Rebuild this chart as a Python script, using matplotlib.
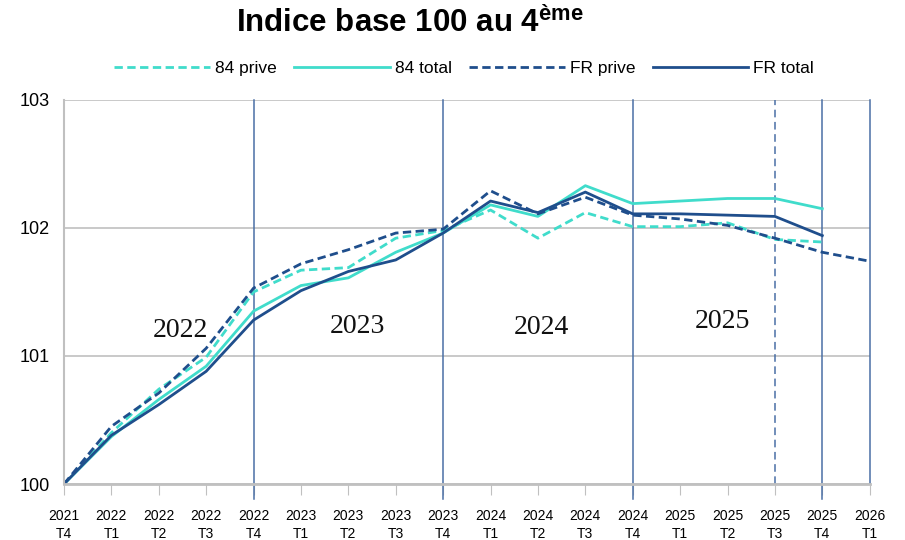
import matplotlib
matplotlib.use("Agg")
import matplotlib.pyplot as plt
from matplotlib import font_manager

# pick a narrow sans if there is one
names = set(f.name for f in font_manager.fontManager.ttflist)
SANS = "Liberation Sans Narrow" if "Liberation Sans Narrow" in names else "Liberation Sans"
plt.rcParams["font.family"] = [SANS, "DejaVu Sans"]

quarters = ["2021\nT4", "2022\nT1", "2022\nT2", "2022\nT3", "2022\nT4", "2023\nT1",
            "2023\nT2", "2023\nT3", "2023\nT4", "2024\nT1", "2024\nT2", "2024\nT3",
            "2024\nT4", "2025\nT1", "2025\nT2", "2025\nT3", "2025\nT4", "2026\nT1"]

prive_84 = [100, 100.40, 100.74, 100.99, 101.50, 101.67, 101.69, 101.92, 101.98,
            102.14, 101.92, 102.12, 102.01, 102.01, 102.04, 101.91, 101.89]
total_84 = [100, 100.37, 100.66, 100.92, 101.35, 101.55, 101.61, 101.81, 101.96,
            102.18, 102.09, 102.33, 102.19, 102.21, 102.23, 102.23, 102.15]
prive_fr = [100, 100.45, 100.71, 101.06, 101.53, 101.72, 101.83, 101.96, 101.99,
            102.29, 102.11, 102.24, 102.10, 102.07, 102.02, 101.92, 101.81, 101.74]
total_fr = [100, 100.38, 100.62, 100.88, 101.28, 101.51, 101.66, 101.75, 101.96,
            102.21, 102.12, 102.28, 102.11, 102.11, 102.10, 102.09, 101.94]

years = ["2022", "2023", "2024", "2025"]
year_x = [2.45, 6.2, 10.08, 13.9]
year_y = [101.20, 101.23, 101.22, 101.27]

year_ends = [4, 8, 12, 16]
dashed_sep = 15

TURQ = "#40DCCB"
DARK = "#1F4E8C"
SEP = "#4A6FA5"
GRID = "#C0C0C0"

fig = plt.figure(figsize=(9.05, 5.4), dpi=100)
ax = fig.add_axes([0.0707, 0.1037, 0.8903, 0.7113])

x_all = list(range(len(quarters)))
ax.plot(x_all[:len(prive_84)], prive_84, color=TURQ, lw=2, ls=(0, (3, 1.6)), label="84 prive")
ax.plot(x_all[:len(total_84)], total_84, color=TURQ, lw=2, label="84 total")
ax.plot(x_all[:len(prive_fr)], prive_fr, color=DARK, lw=2, ls=(0, (3, 1.6)), label="FR prive")
ax.plot(x_all[:len(total_fr)], total_fr, color=DARK, lw=2, label="FR total")

for xe in year_ends:
    ax.axvline(xe, color=SEP, lw=1.1, ymin=-0.04, clip_on=False, zorder=1)
ax.axvline(dashed_sep, color=SEP, lw=1.1, ls=(0, (5, 3)), zorder=1)

for t, xx, yy in zip(years, year_x, year_y):
    ax.text(xx, yy, t, fontsize=20, family=["Liberation Serif", "DejaVu Serif"],
            ha="center", va="center", color="#111111")

ax.set_xlim(0, len(quarters) - 1)
ax.set_ylim(100, 103)
ax.set_yticks([100, 101, 102, 103])
ax.set_xticks(x_all)
ax.set_xticklabels(quarters, fontsize=10, linespacing=1.4)
ax.tick_params(axis="x", length=8, color=GRID, pad=10)
ax.tick_params(axis="y", length=0, labelsize=13, pad=10)
ax.grid(axis="y", color=GRID, lw=1.2)
ax.set_axisbelow(True)

ax.spines["top"].set_visible(False)
ax.spines["left"].set_color(GRID)
ax.spines["left"].set_linewidth(1.5)
ax.spines["bottom"].set_color(GRID)
ax.spines["bottom"].set_linewidth(2)
ax.spines["right"].set_color(SEP)
ax.spines["right"].set_linewidth(1.1)

fig.legend(loc="center", bbox_to_anchor=(0.513, 0.873), ncol=4, frameon=False,
           fontsize=12.5, handlelength=5.5, handletextpad=0.3, columnspacing=1.0)

plt.rcParams["mathtext.fontset"] = "custom"
plt.rcParams["mathtext.bf"] = SANS + ":bold"
plt.rcParams["mathtext.rm"] = SANS
fig.text(0.453, 0.957, r"Indice base 100 au 4$^{\mathbf{ème}}$", fontsize=22.5,
         fontweight="bold", ha="center", va="center")

fig.savefig("out.png", dpi=100)
